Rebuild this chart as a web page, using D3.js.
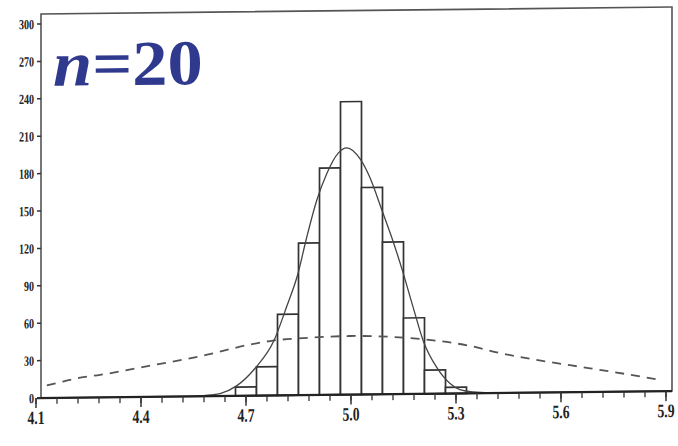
<!DOCTYPE html>
<html>
<head>
<meta charset="utf-8">
<script src="https://cdn.jsdelivr.net/npm/d3@7/dist/d3.min.js"></script>
<style>
  html, body { margin: 0; padding: 0; background: #fff; }
  svg { display: block; }
  .lbl { font-family: "Liberation Serif", "DejaVu Serif", serif; font-weight: bold; fill: #222; }
</style>
</head>
<body>
<svg id="chart" width="678" height="446"></svg>
<script>
// Histogram of sample means (bins of width 0.06) with fitted curves
const binStarts = [4.67, 4.73, 4.79, 4.85, 4.91, 4.97, 5.03, 5.09, 5.15, 5.21, 5.27];
const binWidth = 0.06;
const counts = [7, 23, 65, 122, 182, 235, 166, 122, 61, 19, 5];

// Solid curve: distribution of the mean, as (x, frequency) points
const meanCurveX = [4.55, 4.60, 4.626, 4.673, 4.726, 4.78, 4.816, 4.848, 4.873, 4.902, 4.930, 4.964, 4.988,
                    5.026, 5.054, 5.088, 5.116, 5.147, 5.178, 5.207, 5.245, 5.283, 5.311, 5.35, 5.40];
const meanCurveY = [0, 1, 2, 8, 22, 44, 71, 97, 126, 156, 177, 194, 198,
                    189, 174, 148, 126, 99, 69, 42, 21, 8, 3, 1, 0];

// Dashed curve: population distribution
const popCurveX = [4.131, 4.177, 4.226, 4.283, 4.426, 4.569, 4.711, 4.777, 4.883, 4.997,
                   5.16, 5.303, 5.34, 5.426, 5.554, 5.683, 5.826, 5.883];
const popCurveY = [10, 13, 16, 18, 25, 32, 41, 44, 46, 47,
                   45, 40, 38, 32, 25, 19, 12, 9];

const xMajor = [4.1, 4.4, 4.7, 5.0, 5.3, 5.6, 5.9];
const yTicks = [0, 30, 60, 90, 120, 150, 180, 210, 240, 270, 300];

const svg = d3.select("#chart");
const x = d3.scaleLinear().domain([4.1, 5.9]).range([36, 666]);
const y = d3.scaleLinear().domain([0, 300]).range([398, 24]);

const frame = { left: 41, right: 672, top: 14, bottom: 398 };

// the printed figure sits with a slight tilt
const tilt = -0.011;
const g = svg.append("g")
  .attr("transform", `translate(0,${-frame.left * tilt}) skewY(${Math.atan(tilt) * 180 / Math.PI})`);

// frame
g.append("rect")
  .attr("x", frame.left).attr("y", frame.top)
  .attr("width", frame.right - frame.left).attr("height", frame.bottom - frame.top)
  .attr("fill", "none").attr("stroke", "#555").attr("stroke-width", 1.6);

// bars
g.append("g").selectAll("rect")
  .data(counts)
  .join("rect")
  .attr("x", (d, i) => x(binStarts[i]))
  .attr("width", (d, i) => x(binStarts[i] + binWidth) - x(binStarts[i]))
  .attr("y", d => y(d))
  .attr("height", d => y(0) - y(d))
  .attr("fill", "#fff")
  .attr("stroke", "#333")
  .attr("stroke-width", 1.7);

const line = d3.line().x(d => x(d[0])).y(d => y(d[1])).curve(d3.curveMonotoneX);

// dashed population curve
g.append("path")
  .attr("d", line(d3.zip(popCurveX, popCurveY)))
  .attr("fill", "none").attr("stroke", "#555").attr("stroke-width", 1.8)
  .attr("stroke-dasharray", "9,7");

// solid curve for the mean
g.append("path")
  .attr("d", line(d3.zip(meanCurveX, meanCurveY)))
  .attr("fill", "none").attr("stroke", "#444").attr("stroke-width", 1.3);

// x axis
const xAxis = g.append("g").attr("transform", `translate(0,${frame.bottom})`);
xAxis.append("line").attr("x1", frame.left - 4).attr("x2", frame.right)
  .attr("stroke", "#222").attr("stroke-width", 2.2);
const minorTicks = d3.range(0, 31).map(i => 4.1 + i * 0.06);
xAxis.selectAll("line.minor").data(minorTicks).join("line").attr("class", "minor")
  .attr("x1", d => x(d)).attr("x2", d => x(d)).attr("y1", 0).attr("y2", 6)
  .attr("stroke", "#333").attr("stroke-width", 1.3);
xAxis.selectAll("line.major").data(xMajor).join("line").attr("class", "major")
  .attr("x1", d => x(d)).attr("x2", d => x(d)).attr("y1", 0).attr("y2", 10)
  .attr("stroke", "#333").attr("stroke-width", 1.5);
xAxis.selectAll("text").data(xMajor).join("text").attr("class", "lbl")
  .attr("x", 0).attr("y", 0)
  .attr("text-anchor", "middle").attr("font-size", 19)
  .attr("transform", d => `translate(${x(d)},26) scale(0.72,1)`)
  .text(d => d.toFixed(1));

// y axis
const yAxis = g.append("g");
yAxis.selectAll("line").data(yTicks).join("line")
  .attr("x1", frame.left - 4).attr("x2", frame.left)
  .attr("y1", d => y(d)).attr("y2", d => y(d))
  .attr("stroke", "#333").attr("stroke-width", 1.5);
yAxis.selectAll("text").data(yTicks).join("text").attr("class", "lbl")
  .attr("x", 0).attr("y", 0)
  .attr("text-anchor", "end").attr("font-size", 14)
  .attr("transform", d => `translate(34,${y(d) + 5}) scale(0.72,1)`)
  .text(d => d);

// sample size annotation
const ann = g.append("text")
  .attr("x", 0).attr("y", 0)
  .attr("transform", "translate(53,86) scale(1.1,1)")
  .attr("font-family", "'Liberation Serif', 'DejaVu Serif', serif")
  .attr("font-weight", "bold").attr("font-size", 64)
  .attr("fill", "#2f3a8f");
ann.append("tspan").attr("font-style", "italic").text("n");
ann.append("tspan").text("=20");
</script>
</body>
</html>
